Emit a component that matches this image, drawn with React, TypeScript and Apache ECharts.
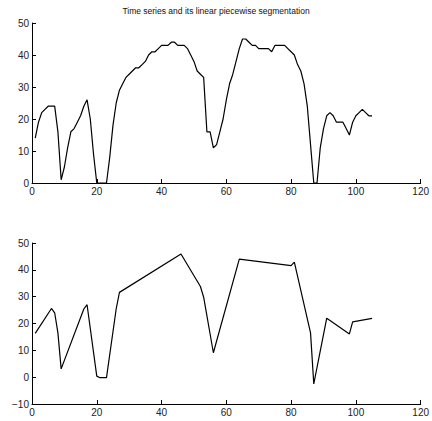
import React, { useEffect, useRef } from "react";
import * as echarts from "echarts";

// Original time series, sampled at t = 1..105
const seriesT: number[] = Array.from({ length: 105 }, (_, i) => i + 1);
const seriesValues: number[] = [
  14, 19, 22, 23, 24, 24, 24, 16, 1, 5,
  11, 16, 17, 19, 21, 24, 26, 20, 9, 0,
  0, 0, 0, 8, 18, 25, 29, 31, 33, 34,
  35, 36, 36, 37, 38, 40, 41, 41, 42, 43,
  43, 43, 44, 44, 43, 43, 43, 42, 40, 38,
  35, 34, 33, 16, 16, 11, 12, 16, 20, 26,
  31, 34, 38, 42, 45, 45, 44, 43, 43, 42,
  42, 42, 42, 41, 43, 43, 43, 43, 42, 41,
  40, 37, 35, 31, 24, 12, 0, 0, 11, 17,
  21, 22, 21, 19, 19, 19, 17, 15, 19, 21,
  22, 23, 22, 21, 21,
];

// Breakpoints of the piecewise linear approximation
const segT: number[] = [1, 6, 7, 8, 9, 16, 17, 20, 21, 23, 26, 27, 46, 52, 53, 56, 64, 80, 81, 86, 87, 91, 98, 99, 105];
const segValues: number[] = [16.3, 25.6, 24, 16.5, 3.1, 25.4, 27, 0.4, -0.2, -0.2, 25.5, 31.6, 45.9, 33.8, 29.8, 9.1, 44, 41.6, 42.9, 16.5, -2.5, 22, 16.1, 20.6, 21.9];

const xTicks = { min: 0, max: 120, interval: 20 };
const topY = { min: 0, max: 50, interval: 10 };
const bottomY = { min: -10, max: 50, interval: 10 };

const FONT = "Liberation Sans, Arial, sans-serif";

function axisCommon(margin: number) {
  return {
    axisLine: { show: true, onZero: false, lineStyle: { color: "#000", width: 1 } },
    axisTick: { show: true, inside: true, length: 4, lineStyle: { color: "#000", width: 1 } },
    splitLine: { show: false },
    axisLabel: { color: "#222", fontSize: 10, fontFamily: FONT, margin },
  };
}

export default function App() {
  const ref = useRef<HTMLDivElement>(null);

  useEffect(() => {
    if (!ref.current) return;
    const chart = echarts.init(ref.current, undefined, { renderer: "svg" });
    const topData = seriesT.map((t, i) => [t, seriesValues[i]]);
    const segData = segT.map((t, i) => [t, segValues[i]]);
    const yCommon = axisCommon(3);

    chart.setOption({
      animation: false,
      backgroundColor: "#fff",
      title: {
        text: "Time series and its linear piecewise segmentation",
        left: "center",
        top: 1,
        textStyle: { fontSize: 8.5, fontWeight: "normal", color: "#111", fontFamily: FONT },
      },
      grid: [
        { left: 32, right: 7, top: 23, height: 160 },
        { left: 32, right: 7, top: 243, height: 161 },
      ],
      xAxis: [
        { type: "value", gridIndex: 0, ...xTicks, ...axisCommon(3) },
        { type: "value", gridIndex: 1, ...xTicks, ...axisCommon(3) },
      ],
      yAxis: [
        { type: "value", gridIndex: 0, ...topY, ...yCommon },
        {
          type: "value",
          gridIndex: 1,
          ...bottomY,
          ...yCommon,
          axisLabel: {
            ...yCommon.axisLabel,
            formatter: (v: number) => (v < 0 ? "\u2212" + Math.abs(v) : String(v)),
          },
        },
      ],
      series: [
        {
          type: "line",
          xAxisIndex: 0,
          yAxisIndex: 0,
          data: topData,
          showSymbol: false,
          lineStyle: { color: "#000", width: 1.2 },
        },
        {
          type: "line",
          xAxisIndex: 1,
          yAxisIndex: 1,
          data: segData,
          showSymbol: false,
          lineStyle: { color: "#000", width: 1.2 },
        },
      ],
    });
    return () => chart.dispose();
  }, []);

  return (
    <div
      ref={ref}
      style={{ position: "fixed", left: 0, top: 0, width: 432, height: 421, background: "#fff" }}
    />
  );
}
